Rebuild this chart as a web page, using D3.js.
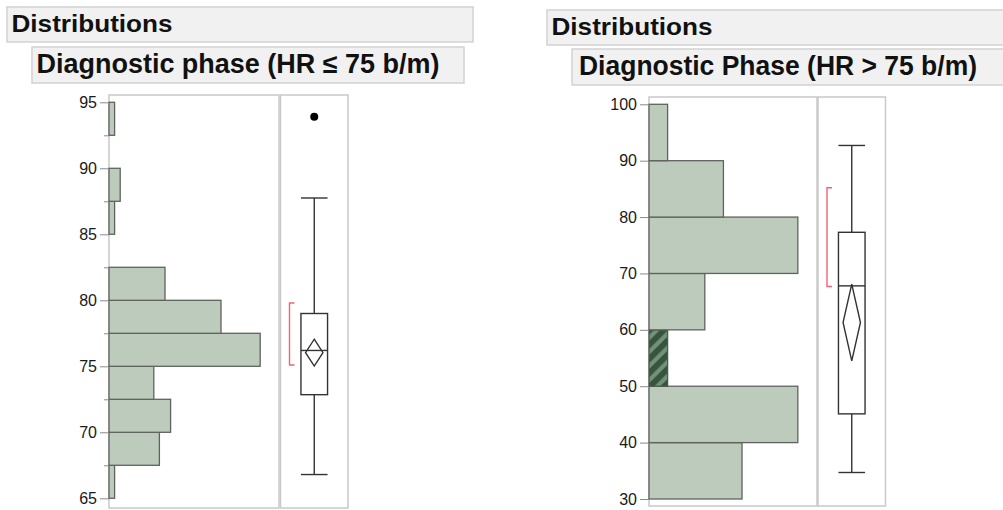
<!DOCTYPE html>
<html>
<head>
<meta charset="utf-8">
<script src="https://cdn.jsdelivr.net/npm/d3@7"></script>
<style>
  body { margin: 0; background: #fff; }
  svg { display: block; }
  text { font-family: "Liberation Sans", Arial, sans-serif; }
</style>
</head>
<body>
<script>
// ---- data ----
var leftTitle = "Distributions",
    leftSub = "Diagnostic phase (HR \u2264 75 b/m)";
var leftEdges = [65, 67.5, 70, 72.5, 75, 77.5, 80, 82.5, 85, 87.5, 90, 92.5, 95];
var leftCounts = [1, 9, 11, 8, 27, 20, 10, 0, 1, 2, 0, 1];
var leftTicks = [65, 70, 75, 80, 85, 90, 95];
var leftMinor = [67.5, 72.5, 77.5, 82.5, 87.5, 92.5];
var leftBox = [66.8, 72.85, 76.2, 79.0, 87.75];   // low whisker, q1, median, q3, high whisker
var leftMean = [75.02, 76.03, 77.05];              // ci low, mean, ci high
var leftShort = [75.1, 79.8];
var leftOut = [93.9];

var rightTitle = "Distributions",
    rightSub = "Diagnostic Phase (HR > 75 b/m)";
var rightEdges = [30, 40, 50, 60, 70, 80, 90, 100];
var rightCounts = [5, 8, 1, 3, 8, 4, 1];
var rightHatch = [false, false, true, false, false, false, false];
var rightTicks = [30, 40, 50, 60, 70, 80, 90, 100];
var rightMinor = [];
var rightBox = [34.7, 45.1, 67.8, 77.3, 92.7];
var rightMean = [54.5, 61.3, 68.1];
var rightShort = [67.7, 85.2];
var rightOut = [];

var svg = d3.select("body").append("svg")
    .attr("width", 1003)
    .attr("height", 510);

// hatch pattern for the selected bar
var pat = svg.append("defs").append("pattern")
    .attr("id", "hatch")
    .attr("patternUnits", "userSpaceOnUse")
    .attr("width", 10).attr("height", 10)
    .attr("patternTransform", "rotate(45)");
pat.append("rect").attr("width", 10).attr("height", 10).attr("fill", "#6f9474");
pat.append("rect").attr("width", 5.8).attr("height", 10).attr("fill", "#3a5240");

function header(g, x, y, w, h, txt, size, tx, ty, tlen) {
  g.append("rect")
      .attr("x", x).attr("y", y).attr("width", w).attr("height", h)
      .attr("fill", "#f1f1f1").attr("stroke", "#d2d2d2").attr("stroke-width", 1.5);
  g.append("text")
      .attr("x", tx).attr("y", ty)
      .attr("font-size", size).attr("font-weight", "bold").attr("fill", "#111")
      .attr("textLength", tlen).attr("lengthAdjust", "spacingAndGlyphs")
      .text(txt);
}

function panel(p) {
  var g = svg.append("g");

  header(g, p.h1[0], p.h1[1], p.h1[2], p.h1[3], p.title, 24, p.h1t[0], p.h1t[1], 161);
  header(g, p.h2[0], p.h2[1], p.h2[2], p.h2[3], p.sub, 27, p.h2t[0], p.h2t[1], p.subLen);

  var y = d3.scaleLinear().domain(p.yDomain).range(p.yRange);
  var x = d3.scaleLinear().domain([0, p.countMax]).range([p.left, p.mid]);

  // histogram frame
  g.append("rect")
      .attr("x", p.left).attr("y", p.top)
      .attr("width", p.mid - p.left).attr("height", p.bottom - p.top)
      .attr("fill", "none").attr("stroke", "#c9c9c9").attr("stroke-width", 1.5);

  // bars
  g.selectAll(".bar").data(p.counts).enter().append("rect")
      .attr("x", x(0))
      .attr("y", function(d, i) { return y(p.edges[i + 1]); })
      .attr("width", function(d) { return x(d) - x(0); })
      .attr("height", function(d, i) { return y(p.edges[i]) - y(p.edges[i + 1]); })
      .attr("fill", function(d, i) { return p.hatch && p.hatch[i] ? "url(#hatch)" : "#bccbbc"; })
      .attr("stroke", function(d, i) { return d > 0 ? (p.hatch && p.hatch[i] ? "#4a5a4c" : "#5e635e") : "none"; })
      .attr("stroke-width", 1.3);

  // axis
  var ax = g.append("g")
      .attr("transform", "translate(" + p.left + ",0)")
      .call(d3.axisLeft(y).tickValues(p.ticks).tickSize(9).tickPadding(3));
  ax.select(".domain").remove();
  ax.selectAll("line").attr("stroke", "#8a8a8a");
  ax.selectAll("text").attr("font-size", 16).attr("fill", "#1a1a1a")
      .style("font-family", "'Liberation Sans', Arial, sans-serif");

  if (p.minor.length) {
    var mx = g.append("g")
        .attr("transform", "translate(" + p.left + ",0)")
        .call(d3.axisLeft(y).tickValues(p.minor).tickSize(5).tickFormat(""));
    mx.select(".domain").remove();
    mx.selectAll("line").attr("stroke", "#8a8a8a");
  }

  // box plot frame
  g.append("rect")
      .attr("x", p.boxL).attr("y", p.top)
      .attr("width", p.boxR - p.boxL).attr("height", p.bottom - p.top)
      .attr("fill", "none").attr("stroke", "#c9c9c9").attr("stroke-width", 1.5);

  var cx = (p.boxL + p.boxR) / 2, hw = 13.3, dw = 8.7;
  var b = p.box, stroke = "#333";

  // whiskers
  g.append("line").attr("x1", cx).attr("x2", cx).attr("y1", y(b[0])).attr("y2", y(b[1]))
      .attr("stroke", stroke).attr("stroke-width", 1.4);
  g.append("line").attr("x1", cx).attr("x2", cx).attr("y1", y(b[3])).attr("y2", y(b[4]))
      .attr("stroke", stroke).attr("stroke-width", 1.4);
  [b[0], b[4]].forEach(function(v) {
    g.append("line").attr("x1", cx - hw).attr("x2", cx + hw).attr("y1", y(v)).attr("y2", y(v))
        .attr("stroke", stroke).attr("stroke-width", 1.4);
  });
  // box
  g.append("rect")
      .attr("x", cx - hw).attr("y", y(b[3]))
      .attr("width", 2 * hw).attr("height", y(b[1]) - y(b[3]))
      .attr("fill", "none").attr("stroke", stroke).attr("stroke-width", 1.4);
  g.append("line").attr("x1", cx - hw).attr("x2", cx + hw).attr("y1", y(b[2])).attr("y2", y(b[2]))
      .attr("stroke", stroke).attr("stroke-width", 1.4);
  // means diamond
  var m = p.mean;
  g.append("path")
      .attr("d", "M" + cx + "," + y(m[2]) + "L" + (cx + dw) + "," + y(m[1]) +
                 "L" + cx + "," + y(m[0]) + "L" + (cx - dw) + "," + y(m[1]) + "Z")
      .attr("fill", "none").attr("stroke", stroke).attr("stroke-width", 1.4);
  // shortest half bracket
  var bx = p.boxL + 9;
  g.append("path")
      .attr("d", "M" + (bx + 5) + "," + y(p.short[1]) + "H" + bx + "V" + y(p.short[0]) + "H" + (bx + 5))
      .attr("fill", "none").attr("stroke", "#f26472").attr("stroke-width", 1.4);
  // outliers
  g.selectAll(".out").data(p.out).enter().append("circle")
      .attr("cx", cx).attr("cy", function(d) { return y(d); }).attr("r", 4)
      .attr("fill", "#000");
}

panel({
  title: leftTitle, sub: leftSub, subLen: 403,
  h1: [7, 7, 466, 35], h1t: [11.5, 32],
  h2: [32, 47, 432, 36], h2t: [36.5, 73],
  yDomain: [65, 95], yRange: [498.3, 102.3],
  left: 109, mid: 279, boxL: 280.5, boxR: 348, top: 95, bottom: 508,
  countMax: 30.36,
  edges: leftEdges, counts: leftCounts, hatch: null,
  ticks: leftTicks, minor: leftMinor,
  box: leftBox, mean: leftMean, short: leftShort, out: leftOut
});

panel({
  title: rightTitle, sub: rightSub, subLen: 398,
  h1: [547, 10, 460, 35], h1t: [551.5, 34.5],
  h2: [572, 49, 434, 36], h2t: [579, 75],
  yDomain: [30, 100], yRange: [499, 104.3],
  left: 649, mid: 817, boxL: 818, boxR: 885.5, top: 97, bottom: 506,
  countMax: 9.03,
  edges: rightEdges, counts: rightCounts, hatch: rightHatch,
  ticks: rightTicks, minor: rightMinor,
  box: rightBox, mean: rightMean, short: rightShort, out: rightOut
});
</script>
</body>
</html>
